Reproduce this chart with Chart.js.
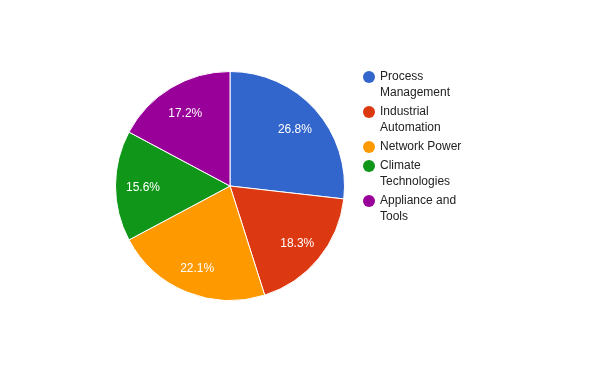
<!DOCTYPE html>
<html>
<head>
<meta charset="utf-8">
<script src="https://cdn.jsdelivr.net/npm/chart.js@4"></script>
<style>
  html, body { margin: 0; padding: 0; background: #fff; }
  #wrap { width: 600px; height: 371px; }
</style>
</head>
<body>
<div id="wrap"><canvas id="pieChart" width="600" height="371"></canvas></div>
<script>
// segments and their shares (percent)
const labels = ['Process Management', 'Industrial Automation', 'Network Power', 'Climate Technologies', 'Appliance and Tools'];
const legendLines = [['Process', 'Management'], ['Industrial', 'Automation'], ['Network Power'], ['Climate', 'Technologies'], ['Appliance and', 'Tools']];
const shares = [26.8, 18.3, 22.1, 15.6, 17.2];
const colors = ['#3366cc', '#dc3912', '#ff9900', '#109618', '#990099'];

// percentage text inside each slice
const sliceLabels = {
  id: 'sliceLabels',
  afterDatasetsDraw(chart) {
    const ctx = chart.ctx;
    const meta = chart.getDatasetMeta(0);
    const total = shares.reduce((a, b) => a + b, 0);
    ctx.save();
    ctx.font = '12px "Liberation Sans", Arial, sans-serif';
    ctx.fillStyle = '#ffffff';
    ctx.textAlign = 'center';
    ctx.textBaseline = 'middle';
    meta.data.forEach((arc, i) => {
      const mid = (arc.startAngle + arc.endAngle) / 2;
      const r = arc.outerRadius * 0.76;
      const x = arc.x + Math.cos(mid) * r;
      const y = arc.y + Math.sin(mid) * r + 2;
      ctx.fillText((shares[i] / total * 100).toFixed(1) + '%', x, y);
    });
    ctx.restore();
  }
};

// legend on the right, with wrapped names
const sideLegend = {
  id: 'sideLegend',
  afterDraw(chart) {
    const ctx = chart.ctx;
    ctx.save();
    ctx.font = '12px "Liberation Sans", Arial, sans-serif';
    ctx.textBaseline = 'middle';
    let y = 77;
    legendLines.forEach((lines, i) => {
      ctx.fillStyle = colors[i];
      ctx.beginPath();
      ctx.arc(369, y, 6, 0, Math.PI * 2);
      ctx.fill();
      ctx.fillStyle = '#222222';
      lines.forEach((t, j) => ctx.fillText(t, 380, y + j * 16));
      y += lines.length * 16 + 3;
    });
    ctx.restore();
  }
};

new Chart(document.getElementById('pieChart'), {
  type: 'pie',
  data: {
    labels: labels,
    datasets: [{
      data: shares,
      backgroundColor: colors,
      borderColor: '#ffffff',
      borderWidth: 1
    }]
  },
  options: {
    responsive: false,
    animation: false,
    layout: { padding: { left: 115, right: 255, top: 71, bottom: 70 } },
    plugins: {
      legend: { display: false },
      tooltip: { enabled: false }
    }
  },
  plugins: [sliceLabels, sideLegend]
});
</script>
</body>
</html>
